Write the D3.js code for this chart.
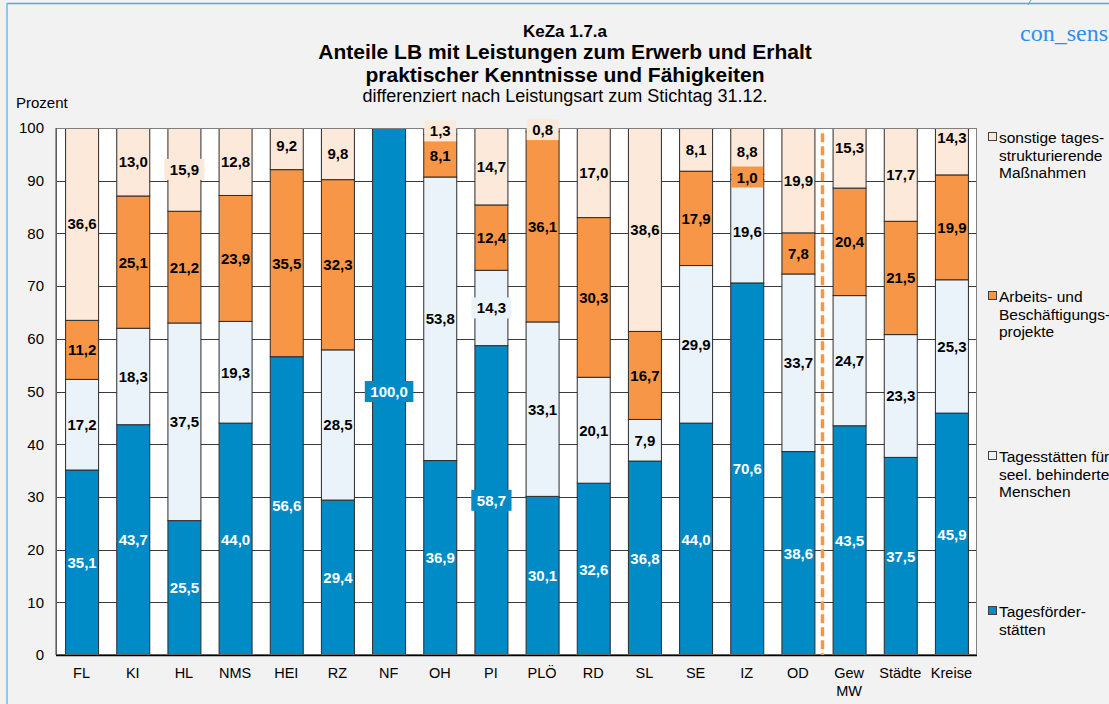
<!DOCTYPE html>
<html><head><meta charset="utf-8">
<script src="https://cdn.jsdelivr.net/npm/d3@7/dist/d3.min.js"></script>
<style>
html,body{margin:0;padding:0;background:#f2f2f2;overflow:hidden;}
svg{display:block;font-family:"Liberation Sans",Arial,sans-serif;}
</style></head>
<body>
<svg id="chart" width="1109" height="704"></svg>
<script>
const categories = ["FL","KI","HL","NMS","HEI","RZ","NF","OH","PI","PLÖ","RD","SL","SE","IZ","OD","Gew MW","Städte","Kreise"];
const tagesfoerder  = [35.1,43.7,25.5,44.0,56.6,29.4,100.0,36.9,58.7,30.1,32.6,36.8,44.0,70.6,38.6,43.5,37.5,45.9];
const tagesstaetten = [17.2,18.3,37.5,19.3,0,28.5,0,53.8,14.3,33.1,20.1,7.9,29.9,19.6,33.7,24.7,23.3,25.3];
const arbeits       = [11.2,25.1,21.2,23.9,35.5,32.3,0,8.1,12.4,36.1,30.3,16.7,17.9,1.0,7.8,20.4,21.5,19.9];
const sonstige      = [36.6,13.0,15.9,12.8,9.2,9.8,0,1.3,14.7,0.8,17.0,38.6,8.1,8.8,19.9,15.3,17.7,14.3];
const yTicks = [0,10,20,30,40,50,60,70,80,90,100];
const seriesNames = ["Tagesförderstätten","Tagesstätten für seel. behinderte Menschen","Arbeits- und Beschäftigungsprojekte","sonstige tagesstrukturierende Maßnahmen"];
const legendLines = [["sonstige tages-","strukturierende","Maßnahmen"],["Arbeits- und","Beschäftigungs-","projekte"],["Tagesstätten für","seel. behinderte","Menschen"],["Tagesförder-","stätten"]];
// labels drawn with a filled box: [category, series index]
const boxedLabels = [["HL",3],["NF",0],["OH",3],["PI",0],["PI",1],["PLÖ",3],["IZ",2]];

const colors = ["#008bc6","#ebf3fa","#f79646","#fde9d9"];
const keys = ["s0","s1","s2","s3"];
const rows = categories.map((c,i)=>({cat:c,s0:tagesfoerder[i],s1:tagesstaetten[i],s2:arbeits[i],s3:sonstige[i]}));

const svg = d3.select("#chart");
const L=56,R=977,T=128,B=655;
const x = d3.scaleBand().domain(categories).range([L,R]).paddingInner(0.355).paddingOuter(0.1775);
const y = d3.scaleLinear().domain([0,100]).range([B,T]);

// outer frame lines
svg.append("line").attr("x1",7).attr("x2",1109).attr("y1",3.5).attr("y2",3.5).attr("stroke","#4aaee0").attr("stroke-width",1.5);
svg.append("line").attr("x1",7).attr("x2",7).attr("y1",3).attr("y2",704).attr("stroke","#6dbbe6").attr("stroke-width",1.5);
svg.append("line").attr("x1",1028).attr("x2",1031).attr("y1",5).attr("y2",0).attr("stroke","#4aaee0").attr("stroke-width",1);

// titles
svg.append("text").attr("x",565).attr("y",31).attr("text-anchor","middle").attr("dominant-baseline","central").attr("font-weight","bold").attr("font-size",17).text("KeZa 1.7.a");
svg.append("text").attr("x",565).attr("y",51).attr("text-anchor","middle").attr("dominant-baseline","central").attr("font-weight","bold").attr("font-size",21).text("Anteile LB mit Leistungen zum Erwerb und Erhalt");
svg.append("text").attr("x",565).attr("y",74).attr("text-anchor","middle").attr("dominant-baseline","central").attr("font-weight","bold").attr("font-size",21).text("praktischer Kenntnisse und Fähigkeiten");
svg.append("text").attr("x",565).attr("y",96).attr("text-anchor","middle").attr("dominant-baseline","central").attr("font-size",18).text("differenziert nach Leistungsart zum Stichtag 31.12.");
svg.append("text").attr("x",1020).attr("y",33).attr("dominant-baseline","central").attr("font-family","'Liberation Serif','Times New Roman',serif").attr("font-size",24).attr("fill","#2f8fef").text("con_sens");
svg.append("text").attr("x",16).attr("y",102).attr("dominant-baseline","central").attr("font-size",15).text("Prozent");

// plot background
svg.append("rect").attr("x",L).attr("y",T).attr("width",R-L).attr("height",B-T).attr("fill","#ffffff");
// gridlines
svg.append("g").selectAll("line").data(yTicks.filter(t=>t>0&&t<100)).join("line")
  .attr("x1",L).attr("x2",R).attr("y1",d=>Math.round(y(d))+0.5).attr("y2",d=>Math.round(y(d))+0.5)
  .attr("stroke","#3a3a3a").attr("stroke-width",1);

// y axis labels
const yAxis = d3.axisLeft(y).tickValues(yTicks).tickSize(0).tickPadding(12).tickFormat(d3.format("d"));
const gy = svg.append("g").attr("transform",`translate(${L},0)`).call(yAxis);
gy.select(".domain").remove();
gy.selectAll("text").attr("font-size",15).attr("font-family","'Liberation Sans',Arial,sans-serif").attr("fill","#000");

// clip
svg.append("clipPath").attr("id","plotclip").append("rect").attr("x",L).attr("y",T).attr("width",R-L).attr("height",B-T);

const stack = d3.stack().keys(keys);
const series = stack(rows);
const gBars = svg.append("g").attr("clip-path","url(#plotclip)");
series.forEach((s,si)=>{
  gBars.append("g").selectAll("rect").data(s.filter(d=>d[1]-d[0]>0)).join("rect")
    .attr("x",d=>x(d.data.cat)+0.5)
    .attr("width",x.bandwidth())
    .attr("y",d=>y(d[1]))
    .attr("height",d=>y(d[0])-y(d[1]))
    .attr("fill",colors[si])
    .attr("stroke","#2b2b2b").attr("stroke-width",1);
});

// plot border
svg.append("rect").attr("x",L+0.5).attr("y",T+0.5).attr("width",R-L-1).attr("height",B-T-1).attr("fill","none").attr("stroke","#7f7f7f").attr("stroke-width",1);
svg.append("line").attr("x1",L).attr("x2",L).attr("y1",T).attr("y2",B).attr("stroke","#404040");
svg.append("line").attr("x1",L).attr("x2",R).attr("y1",B+0.5).attr("y2",B+0.5).attr("stroke","#000").attr("stroke-width",1.5);

// dashed separator between OD and Gew MW
const sepX = x("Gew MW") - (x.step()-x.bandwidth())/2 - 1;
svg.append("line").attr("x1",sepX).attr("x2",sepX).attr("y1",y(99)).attr("y2",y(0)).attr("stroke","#f79646").attr("stroke-width",3.5).attr("stroke-dasharray","9,4");

// labels
const fmt = v=>d3.format(".1f")(v).replace(".",",");
const gLab = svg.append("g");
series.forEach((s,si)=>{
  s.forEach(d=>{
    const v = d[1]-d[0];
    if(!(v>0)) return;
    const cx = x(d.data.cat)+x.bandwidth()/2+0.5;
    const cy = y((d[0]+d[1])/2);
    const boxed = boxedLabels.some(b=>b[0]===d.data.cat && b[1]===si);
    const g = gLab.append("g");
    const t = g.append("text").attr("x",cx).attr("y",cy).attr("text-anchor","middle").attr("dominant-baseline","central")
      .attr("font-weight","bold").attr("font-size",15).attr("fill",si===0?"#ffffff":"#000000").text(fmt(v));
    if(boxed){
      const bb = t.node().getBBox();
      g.insert("rect","text").attr("x",bb.x-5.5).attr("y",cy-10.5).attr("width",bb.width+11).attr("height",21).attr("fill",colors[si]);
    }
  });
});

// x axis labels
const gx = svg.append("g");
categories.forEach(c=>{
  const t = gx.append("text").attr("x",x(c)+x.bandwidth()/2).attr("y",673).attr("text-anchor","middle").attr("dominant-baseline","central").attr("font-size",14.5);
  const parts = c.split(" ");
  parts.forEach((p,i)=>t.append("tspan").attr("x",x(c)+x.bandwidth()/2).attr("dy",i===0?0:18).text(p));
});

// legend
const legendY = [137,296,456,611];
const legendColorIdx = [3,2,1,0];
legendLines.forEach((lines,li)=>{
  const ly = legendY[li];
  svg.append("rect").attr("x",988.5).attr("y",ly-4.5).attr("width",8).attr("height",8).attr("fill",colors[legendColorIdx[li]]).attr("stroke","#404040").attr("stroke-width",1);
  const t = svg.append("text").attr("font-size",15.5).attr("dominant-baseline","central");
  lines.forEach((ln,i)=>t.append("tspan").attr("x",999).attr("y",ly+i*17.5).text(ln));
});
</script>
</body></html>
